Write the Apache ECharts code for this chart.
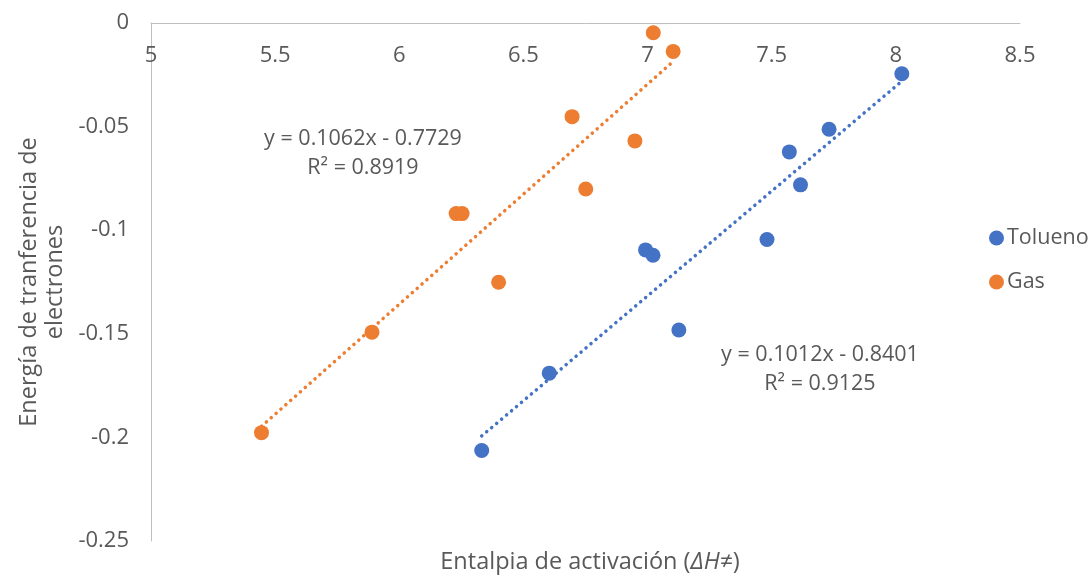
<!DOCTYPE html>
<html>
<head>
<meta charset="utf-8">
<script src="https://cdn.jsdelivr.net/npm/echarts@6/dist/echarts.min.js"></script>
<style>html,body{margin:0;padding:0;background:#fff}#c{width:1092px;height:578px}</style>
</head>
<body>
<div id="c"></div>
<script>
const toluenoX = [6.332, 6.604, 6.992, 7.022, 7.126, 7.481, 7.571, 7.616, 7.731, 8.024];
const toluenoY = [-0.2063, -0.1690, -0.1095, -0.1121, -0.1482, -0.1045, -0.0622, -0.0781, -0.0513, -0.0245];
const gasX = [5.445, 5.890, 6.229, 6.253, 6.400, 6.696, 6.751, 6.949, 7.023, 7.103];
const gasY = [-0.1977, -0.1492, -0.0920, -0.0920, -0.1251, -0.0452, -0.0801, -0.0569, -0.0047, -0.0137];
const toluenoFit = [0.1012, -0.8401];
const gasFit = [0.1062, -0.7729];
const toluenoLabel = ['y = 0.1012x - 0.8401', 'R² = 0.9125'];
const gasLabel = ['y = 0.1062x - 0.7729', 'R² = 0.8919'];

const FONT = 'Open Sans';
const FS = 22, FL = 21.5, FT = 23.5;
const TXT = '#595959';
const BLUE = '#4472C4', ORANGE = '#ED7D31';

function pts(xs, ys){ return xs.map((x,i)=>[x, ys[i]]); }
function fitLine(xs, fit){
  const lo = Math.min(...xs), hi = Math.max(...xs);
  return [[lo, fit[0]*lo+fit[1]], [hi, fit[0]*hi+fit[1]]];
}

const chart = echarts.init(document.getElementById('c'));
chart.setOption({
  animation: false,
  textStyle: {fontFamily: FONT},
  grid: {left: 151, top: 23, right: 72, bottom: 37},
  xAxis: {
    type: 'value', min: 5, max: 8.5, interval: 0.5, position: 'top',
    axisLine: {show: true, onZero: false, lineStyle: {color: '#BFBFBF', width: 1}},
    axisTick: {show: false}, splitLine: {show: false},
    axisLabel: {inside: true, color: TXT, fontSize: FS, fontFamily: FONT, margin: 22}
  },
  yAxis: {
    type: 'value', min: -0.25, max: 0, interval: 0.05,
    axisLine: {show: true, lineStyle: {color: '#BFBFBF', width: 1}},
    axisTick: {show: false}, splitLine: {show: false},
    axisLabel: {color: TXT, fontSize: FS, fontFamily: FONT, margin: 22,
      formatter: v => (Math.abs(v) < 1e-9 ? '0' : String(+v.toFixed(2)))}
  },
  legend: {
    orient: 'vertical', left: 984, top: 222, itemWidth: 15, itemHeight: 15, itemGap: 22,
    icon: 'circle', data: ['Tolueno', 'Gas'],
    textStyle: {color: TXT, fontSize: FL, fontFamily: FONT, padding: [0,0,0,-2]}
  },
  series: [
    {name: 'Tolueno', type: 'scatter', data: pts(toluenoX, toluenoY), symbolSize: 15,
     itemStyle: {color: BLUE, opacity: 1}, z: 3},
    {name: 'Gas', type: 'scatter', data: pts(gasX, gasY), symbolSize: 15,
     itemStyle: {color: ORANGE, opacity: 1}, z: 3},
    {name: 'Tolueno fit', type: 'line', data: fitLine(toluenoX, toluenoFit), symbol: 'none',
     lineStyle: {color: BLUE, width: 3.5, type: [0.1, 6.4], cap: 'round'}, z: 2},
    {name: 'Gas fit', type: 'line', data: fitLine(gasX, gasFit), symbol: 'none',
     lineStyle: {color: ORANGE, width: 3.5, type: [0.1, 6.4], cap: 'round'}, z: 2}
  ],
  graphic: [
    {type: 'text', silent: true, x: 363, y: 153,
     style: {text: gasLabel.join('\n'), x: 0, y: 0, textAlign: 'center', textVerticalAlign: 'middle',
       font: FL + 'px "' + FONT + '"', fill: TXT, lineHeight: 29}},
    {type: 'text', silent: true, x: 820, y: 369,
     style: {text: toluenoLabel.join('\n'), x: 0, y: 0, textAlign: 'center', textVerticalAlign: 'middle',
       font: FL + 'px "' + FONT + '"', fill: TXT, lineHeight: 29}},
    {type: 'text', silent: true, x: 42, y: 282, rotation: Math.PI/2,
     style: {text: 'Energía de tranferencia de\nelectrones', x: 0, y: 0, textAlign: 'center', textVerticalAlign: 'middle',
       font: FT + 'px "' + FONT + '"', fill: TXT, lineHeight: 26}},
    {type: 'text', silent: true, x: 590, y: 562,
     style: {rich: {a: {fontSize: FT, fontFamily: FONT, color: TXT},
                    i: {fontSize: FT, fontFamily: FONT, fontStyle: 'italic', color: TXT}},
       text: '{a|Entalpia de activación (}{i|ΔH≠}{a|)}', textAlign: 'center', textVerticalAlign: 'middle', fill: TXT}}
  ]
});
</script>
</body>
</html>
